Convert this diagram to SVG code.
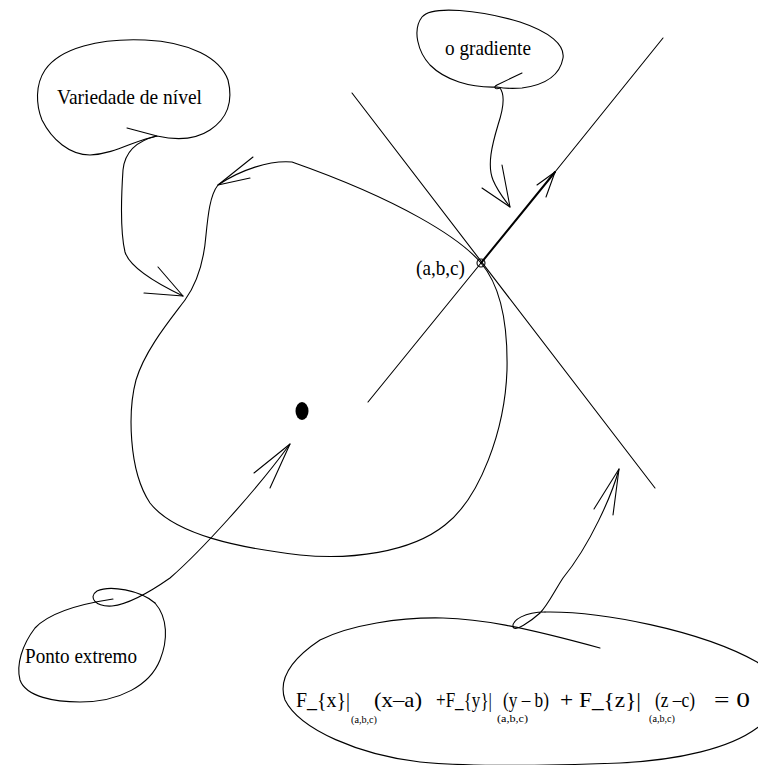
<svg xmlns="http://www.w3.org/2000/svg" width="758" height="765" viewBox="0 0 758 765">
<style>
.s{fill:none;stroke:#000;stroke-width:1.1;stroke-linejoin:round;stroke-linecap:round}
.t{font-family:"Liberation Serif","Times New Roman",serif;font-size:22px;fill:#000}
.e{font-family:"Liberation Serif","Times New Roman",serif;font-size:21px;fill:#000}
.sub{font-family:"Liberation Serif","Times New Roman",serif;font-size:10px;fill:#000}
</style>
<rect width="758" height="765" fill="#fff"/>
<g id="connectors">
  <path class="s" d="M218,185 C210,195 208,215 206,235 C204,260 198,282 185,300 C170,320 145,350 136,380 C128,410 128,470 150,503 C175,535 240,548 300,555 C350,560 410,553 445,525 C480,498 505,430 507,370 C508,320 500,285 481,263 C460,238 400,200 292,162 C270,160 240,170 218,185"/>
  <polyline class="s" points="253,157 218,185 250,178"/>
  <line class="s" x1="352" y1="93" x2="655" y2="488"/>
  <line class="s" x1="368" y1="402" x2="481" y2="263"/>
  <line class="s" x1="481" y1="263" x2="555" y2="172" style="stroke-width:2"/>
  <line class="s" x1="555" y1="172" x2="663" y2="38"/>
  <polyline class="s" points="537,185 555,172 546,197"/>
  <path class="s" d="M157,136 C140,140 125,150 123,170 C121,200 121,235 125,252 C130,268 160,285 183,296"/>
  <polyline class="s" points="158,267 183,296 144,293"/>
  <path class="s" d="M522,73 L497,85 C493,87 495,90 500,88 C506,96 503,110 498,125 C492,145 487,165 493,180 C498,192 505,200 510,207"/>
  <polyline class="s" points="502,165 510,207 482,188"/>
  <path class="s" d="M155,603 C140,590 110,585 97,591 C88,597 95,607 112,606 C130,604 150,592 170,578 C200,552 255,492 290,444"/>
  <polyline class="s" points="254,473 290,444 270,488"/>
  <path class="s" d="M619,469 C612,495 590,545 563,578 C555,590 548,605 540,613 C530,622 515,632 513,627 C512,620 525,612 545,612"/>
  <polyline class="s" points="594,509 619,469 613,515"/>
</g>
<g id="point">
  <circle cx="481" cy="263" r="4" class="s"/>
  <text class="t" x="416" y="275" textLength="49" lengthAdjust="spacingAndGlyphs">(a,b,c)</text>
</g>
<g id="extremo-dot">
  <ellipse cx="302" cy="411" rx="6.5" ry="9" fill="#000"/>
</g>
<g id="variedade">
  <path class="s" d="M127,128 L157,136 C175,140 195,140 210,130 C228,118 233,100 228,80 C220,58 190,42 145,40 C100,38 60,48 45,70 C35,85 36,105 42,120 C52,140 70,155 90,155 C115,154 135,140 157,136"/>
  <text class="t" x="57" y="104" textLength="145" lengthAdjust="spacingAndGlyphs">Variedade de nível</text>
</g>
<g id="gradiente">
  <path class="s" d="M497,87 C470,88 445,80 430,65 C418,52 412,30 422,17 C432,5 480,10 520,22 C550,32 565,45 563,58 C560,75 545,85 522,88 C510,89 502,88 497,87"/>
  <text class="t" x="445" y="55" textLength="86" lengthAdjust="spacingAndGlyphs">o gradiente</text>
</g>
<g id="ponto-extremo">
  <path class="s" d="M113,599 C80,604 50,612 35,628 C22,645 16,665 20,680 C26,697 55,702 80,702 C120,702 150,685 160,660 C168,640 168,618 155,603"/>
  <text class="t" x="25" y="663" textLength="112" lengthAdjust="spacingAndGlyphs">Ponto extremo</text>
</g>
<g id="equacao">
  <path class="s" d="M545,612 C600,611 700,630 757,662 C775,675 775,715 757,728 C730,748 680,760 620,763 C540,766 460,766 420,762 C360,755 300,730 285,700 C278,680 290,660 320,640 C350,625 400,617 443,618 C480,619 520,626 600,648"/>
  <text class="e" x="296" y="707" textLength="54" lengthAdjust="spacingAndGlyphs">F_{x}|</text>
  <text class="sub" x="351" y="723" textLength="26" lengthAdjust="spacingAndGlyphs">(a,b,c)</text>
  <text class="e" x="374" y="707" textLength="48" lengthAdjust="spacingAndGlyphs">(x–a)</text>
  <text class="e" x="436" y="707" textLength="56" lengthAdjust="spacingAndGlyphs">+F_{y}|</text>
  <text class="sub" x="497" y="722" textLength="31" lengthAdjust="spacingAndGlyphs">(a,b,c)</text>
  <text class="e" x="503" y="707" textLength="46" lengthAdjust="spacingAndGlyphs">(y – b)</text>
  <text class="e" x="560" y="707" textLength="81" lengthAdjust="spacingAndGlyphs">+ F_{z}|</text>
  <text class="sub" x="649" y="722" textLength="26" lengthAdjust="spacingAndGlyphs">(a,b,c)</text>
  <text class="e" x="655" y="707" textLength="40" lengthAdjust="spacingAndGlyphs">(z –c)</text>
  <text class="e" x="714" y="707" textLength="36" lengthAdjust="spacingAndGlyphs">= 0</text>
</g>
</svg>
